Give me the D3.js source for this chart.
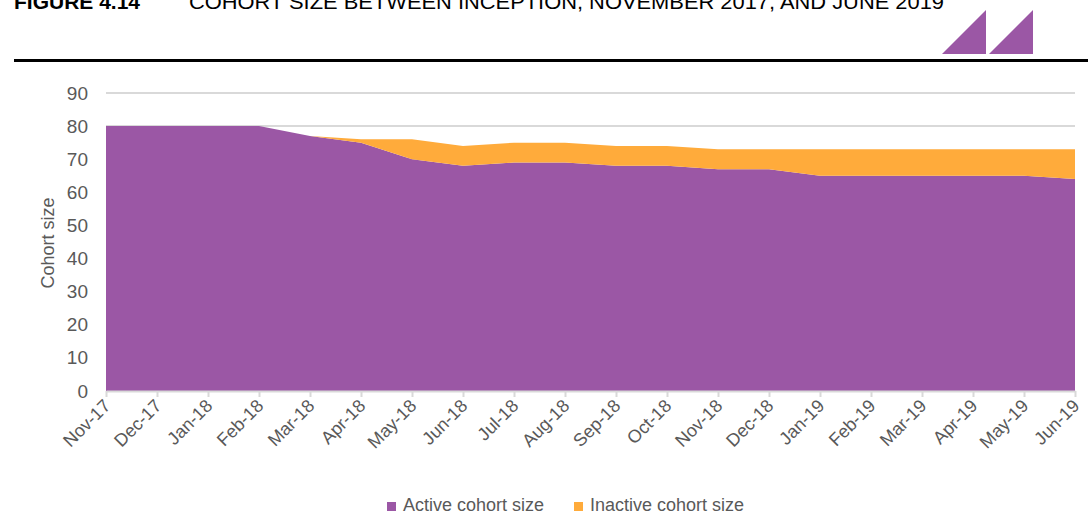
<!DOCTYPE html>
<meta charset="utf-8">
<script src="https://d3js.org/d3.v7.min.js"></script>
<style>
  body { margin: 0; background: #fff; }
  text { font-family: "Liberation Sans", Arial, sans-serif; }
</style>
<div id="chart"></div>
<script>
// data
var months = ["Nov-17","Dec-17","Jan-18","Feb-18","Mar-18","Apr-18","May-18","Jun-18","Jul-18","Aug-18",
              "Sep-18","Oct-18","Nov-18","Dec-18","Jan-19","Feb-19","Mar-19","Apr-19","May-19","Jun-19"];
var active   = [80,80,80,80,77,75,70,68,69,69,68,68,67,67,65,65,65,65,65,64];
var inactive = [0,0,0,0,0,1,6,6,6,6,6,6,6,6,8,8,8,8,8,9];
var yTicks = [0,10,20,30,40,50,60,70,80,90];
var seriesNames = ["Active cohort size", "Inactive cohort size"];
var colors = ["#9b57a5", "#ffab3b"];

var W = 1088, H = 514;
var svg = d3.select("#chart").append("svg").attr("width", W).attr("height", H);

// title (clipped at the top, like the source page)
svg.append("text").attr("x", 14).attr("y", 9)
  .style("font-size", "21px").style("font-weight", "bold").text("FIGURE 4.14");
svg.append("text").attr("x", 189).attr("y", 9)
  .style("font-size", "21px").attr("textLength", 755).attr("lengthAdjust", "spacingAndGlyphs")
  .text("COHORT SIZE BETWEEN INCEPTION, NOVEMBER 2017, AND JUNE 2019");

// logo
svg.append("path").attr("d", "M942,54L986,54L986,10Z").attr("fill", "#9b57a5");
svg.append("path").attr("d", "M989,54L1033,54L1033,10Z").attr("fill", "#9b57a5");
svg.append("rect").attr("x", 14).attr("y", 59).attr("width", W - 14).attr("height", 3).attr("fill", "#000");

var x = d3.scalePoint().domain(months).range([106, 1075]);
var y = d3.scaleLinear().domain([0, 90]).range([391, 93]);

// gridlines
svg.append("g").selectAll("line").data(yTicks.slice(1)).enter().append("line")
  .attr("x1", 106).attr("x2", 1075)
  .attr("y1", function(d) { return y(d); }).attr("y2", function(d) { return y(d); })
  .attr("stroke", "#d9d9d9").attr("stroke-width", 2);

// stacked areas
var rows = months.map(function(m, i) { return {month: m, a: active[i], b: inactive[i]}; });
var stack = d3.stack().keys(["a", "b"])(rows);
var area = d3.area()
  .x(function(d) { return x(d.data.month); })
  .y0(function(d) { return y(d[0]); })
  .y1(function(d) { return y(d[1]); });
svg.append("g").selectAll("path").data(stack).enter().append("path")
  .attr("d", area).attr("fill", function(d, i) { return colors[i]; });

// y axis labels
var yAxis = svg.append("g").attr("transform", "translate(106,0)")
  .call(d3.axisLeft(y).tickValues(yTicks).tickSize(0).tickPadding(18));
yAxis.select(".domain").remove();
yAxis.selectAll("text").style("font-size", "19px").attr("fill", "#595959")
  .style("font-family", "'Liberation Sans', Arial, sans-serif");

// x axis
var xAxis = svg.append("g").attr("transform", "translate(0,391)")
  .call(d3.axisBottom(x).tickSize(6).tickSizeOuter(0));
xAxis.select(".domain").attr("stroke", "#d9d9d9").attr("stroke-width", 2);
xAxis.selectAll(".tick line").attr("stroke", "#d9d9d9").attr("stroke-width", 2);
xAxis.selectAll("text")
  .style("font-size", "18px").attr("fill", "#595959")
  .style("font-family", "'Liberation Sans', Arial, sans-serif")
  .style("text-anchor", "end")
  .attr("x", 0).attr("y", 0).attr("dx", 0).attr("dy", 0)
  .attr("transform", "translate(5,16) rotate(-45)");

// y axis title
svg.append("text").attr("transform", "translate(54,243) rotate(-90)")
  .attr("text-anchor", "middle").style("font-size", "18px").attr("fill", "#595959")
  .text("Cohort size");

// legend
var leg = [{x: 387, t: seriesNames[0], c: colors[0]}, {x: 574, t: seriesNames[1], c: colors[1]}];
var lg = svg.append("g").selectAll("g").data(leg).enter().append("g");
lg.append("rect").attr("x", function(d) { return d.x; }).attr("y", 502)
  .attr("width", 9).attr("height", 9).attr("fill", function(d) { return d.c; });
lg.append("text").attr("x", function(d) { return d.x + 16; }).attr("y", 511)
  .style("font-size", "18px").attr("fill", "#595959").text(function(d) { return d.t; });
</script>
